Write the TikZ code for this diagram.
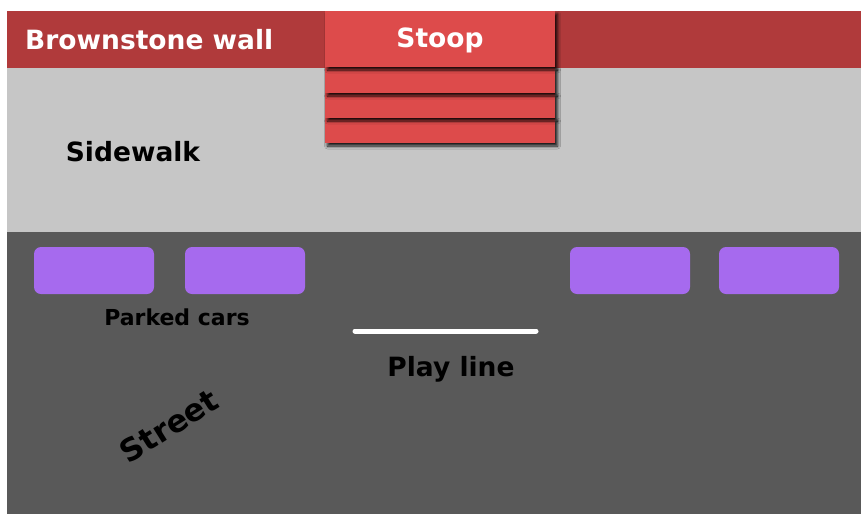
\documentclass[tikz,border=0pt]{standalone}
\usepackage{fontspec}
\setmainfont{DejaVu Sans}
\usetikzlibrary{shadows.blur}
\definecolor{wallred}{HTML}{B03A3B}
\definecolor{stoopred}{HTML}{DD4B4B}
\definecolor{sidewalkgray}{HTML}{C6C6C6}
\definecolor{streetgray}{HTML}{595959}
\definecolor{carpurple}{HTML}{A66AEE}
\tikzset{
  region/.style={anchor=north west, inner sep=0pt, outer sep=0pt},
  stoopbox/.style={region, fill=stoopred, minimum width=230pt,
    blur shadow={shadow xshift=2.5pt, shadow yshift=-3pt, shadow blur steps=6, shadow blur radius=3pt, shadow opacity=90}},
  carbox/.style={region, fill=carpurple, rounded corners=7pt, minimum width=120pt, minimum height=47pt},
  whitelabel/.style={text=white, font=\fontsize{26.5}{30}\selectfont\bfseries, inner sep=0pt},
  blacklabel/.style={text=black, font=\fontsize{26.5}{30}\selectfont\bfseries, inner sep=0pt},
  smalllabel/.style={text=black, font=\fontsize{22}{26}\selectfont\bfseries, inner sep=0pt},
}
\begin{document}
\begin{tikzpicture}[x=1pt,y=-1pt]
\useasboundingbox (0,0) rectangle (861,514);
\fill[white] (0,0) rectangle (861,514);
\node[region, fill=streetgray, minimum width=854pt, minimum height=282pt] (street) at (7,232) {};
\node[region, fill=sidewalkgray, minimum width=854pt, minimum height=164pt] (sidewalk) at (7,68) {};
\node[region, fill=wallred, minimum width=854pt, minimum height=57pt] (wall) at (7,11) {};
% stoop steps, lowest first
\node[stoopbox, minimum height=25pt] (step3) at (325,118) {};
\node[stoopbox, minimum height=25pt] (step2) at (325,93) {};
\node[stoopbox, minimum height=26pt] (step1) at (325,67) {};
\node[stoopbox, minimum height=56pt] (stoop) at (325,11) {};
% labels
\node[whitelabel, anchor=west] (walllabel) at (25,40) {Brownstone wall};
\node[whitelabel] (stooplabel) at (440,40) {Stoop};
\node[blacklabel] (sidewalklabel) at (133,152) {Sidewalk};
% cars
\node[carbox] (car1) at (34,247) {};
\node[carbox] (car2) at (185,247) {};
\node[carbox] (car3) at (570,247) {};
\node[carbox] (car4) at (719,247) {};
\node[smalllabel] (carslabel) at (177,317) {Parked cars};
% play line
\coordinate (playA) at (355,331);
\coordinate (playB) at (536,331);
\draw[white, line width=5pt, line cap=round] (playA) -- (playB);
\node[blacklabel] (playlabel) at (451,369) {Play line};
\node[blacklabel, font=\fontsize{31}{34}\selectfont\bfseries, rotate=32] (streetlabel) at (169,426) {Street};
\end{tikzpicture}
\end{document}
